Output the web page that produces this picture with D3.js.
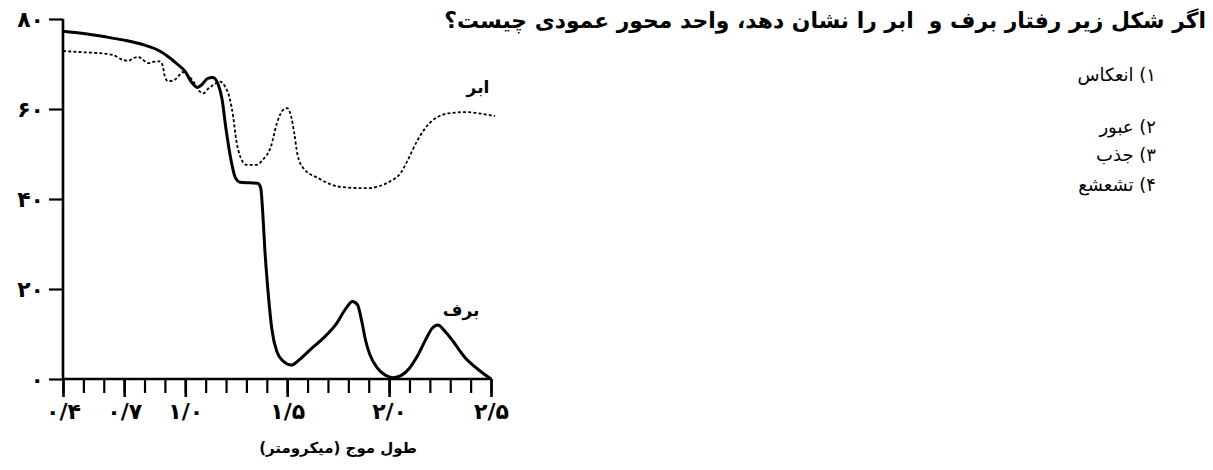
<!DOCTYPE html>
<html>
<head>
<meta charset="utf-8">
<script src="https://cdn.jsdelivr.net/npm/d3@7"></script>
<style>
  html, body { margin: 0; padding: 0; background: #fff; }
  #wrap { position: relative; width: 1213px; height: 470px; overflow: hidden; }
  svg { position: absolute; left: 0; top: 0; }
  .q { position: absolute; direction: rtl; font-family: "DejaVu Sans", sans-serif; color: #000; white-space: pre; }
</style>
</head>
<body>
<div id="wrap"></div>
<script>
// ---------- data ----------
const wavelengthSnow = [0.40,0.50,0.60,0.70,0.80,0.87,0.92,0.96,1.00,1.03,1.06,1.085,1.11,1.135,1.16,1.18,1.20,1.225,1.245,1.27,1.32,1.355,1.37,1.38,1.39,1.405,1.425,1.45,1.48,1.52,1.56,1.62,1.68,1.74,1.79,1.82,1.845,1.865,1.885,1.905,1.94,1.98,2.02,2.06,2.10,2.14,2.18,2.21,2.24,2.27,2.31,2.37,2.44,2.50];
const snowValues     = [77.3,76.8,76.1,75.3,74.2,73.0,71.5,70.0,68.3,66.0,64.8,65.6,66.8,67.0,65.6,62.3,55.5,48.5,44.8,43.7,43.6,43.5,42.5,37,29,20,11,6,4,3.1,4.3,6.8,9.2,12.2,15.8,17.2,16.5,13,8.5,5.5,2.6,0.9,0.3,0.8,2.4,5.2,8.8,11.2,12.0,10.8,8.6,4.9,2.0,0];

const wavelengthCloud = [0.40,0.50,0.58,0.645,0.695,0.72,0.745,0.77,0.79,0.82,0.845,0.875,0.888,0.90,0.915,0.94,0.965,0.985,1.01,1.04,1.07,1.09,1.11,1.14,1.17,1.195,1.22,1.235,1.25,1.27,1.30,1.35,1.38,1.42,1.45,1.48,1.50,1.52,1.535,1.55,1.58,1.65,1.76,1.89,2.00,2.06,2.09,2.14,2.20,2.30,2.38,2.46,2.52];
const cloudValues     = [72.9,72.6,72.4,72.0,70.9,70.7,71.3,71.6,71.0,70.2,70.5,70.6,69.8,67.2,66.2,66.3,67.2,68.2,67.6,66.1,63.9,63.5,64.4,65.4,66.1,65.0,62.0,58.3,53.1,49.4,47.6,47.6,48.7,51.6,56.9,59.8,60.2,58.2,54.5,50.0,46.8,44.7,42.7,42.4,43.8,46.0,48.5,53.1,56.9,59.1,59.3,58.9,58.4];

const xTicksAll    = [0.4,0.5,0.6,0.7,0.8,0.9,1.0,1.1,1.2,1.3,1.4,1.5,1.6,1.7,1.8,1.9,2.0,2.1,2.2,2.3,2.4,2.5];
const xTicksMajor  = [0.4,0.7,1.0,1.5,2.0,2.5];
const xTickLabels  = ["۰/۴","۰/۷","۱/۰","۱/۵","۲/۰","۲/۵"];
const yTicks       = [0,20,40,60,80];
const yTickLabels  = ["۰","۲۰","۴۰","۶۰","۸۰"];

const seriesLabels = ["برف","ابر"];
const xAxisTitle   = "طول موج (میکرومتر)";
const questionText = "اگر شکل زیر رفتار برف و  ابر را نشان دهد، واحد محور عمودی چیست؟";
const options      = ["۱) انعکاس","۲) عبور","۳) جذب","۴) تشعشع"];

// ---------- layout ----------
const W = 1213, H = 470;
const wrap = d3.select("#wrap");
const svg = wrap.append("svg").attr("width", W).attr("height", H);

const x = d3.scaleLinear().domain([0.4, 2.5]).range([63, 491]);
const y = d3.scaleLinear().domain([0, 80]).range([379, 19]);

const FONT = "'DejaVu Sans', sans-serif";

// x axis: minor ticks
const xMinor = svg.append("g").attr("transform", `translate(0,${y(0)})`)
  .call(d3.axisBottom(x).tickValues(xTicksAll).tickSize(14).tickFormat(""));
xMinor.select(".domain").remove();
xMinor.selectAll(".tick line").attr("stroke", "#000").attr("stroke-width", 2.2);

// x axis: major ticks + labels
const xMajor = svg.append("g").attr("transform", `translate(0,${y(0)})`)
  .call(d3.axisBottom(x).tickValues(xTicksMajor).tickSize(18).tickPadding(6)
        .tickFormat((d, i) => xTickLabels[i]));
xMajor.select(".domain").remove();
xMajor.selectAll(".tick line").attr("stroke", "#000").attr("stroke-width", 2.6);
xMajor.selectAll(".tick text").attr("fill", "#000")
  .style("font-family", FONT).style("font-size", "22px").style("font-weight", "bold")
  .style("letter-spacing", "1px").attr("direction", "ltr");

// x axis line
svg.append("line").attr("x1", x(0.4) - 1).attr("x2", x(2.5) + 1)
  .attr("y1", y(0)).attr("y2", y(0)).attr("stroke", "#000").attr("stroke-width", 2.6);

// y axis
const yAx = svg.append("g").attr("transform", `translate(${x(0.4)},0)`)
  .call(d3.axisLeft(y).tickValues(yTicks).tickSize(14).tickPadding(5)
        .tickFormat((d, i) => yTickLabels[i]));
yAx.select(".domain").remove();
yAx.selectAll(".tick line").attr("stroke", "#000").attr("stroke-width", 2.2);
yAx.selectAll(".tick text").attr("fill", "#000")
  .style("font-family", FONT).style("font-size", "22px").style("font-weight", "bold")
  .style("letter-spacing", "4px").attr("direction", "ltr");
svg.append("line").attr("x1", x(0.4)).attr("x2", x(0.4))
  .attr("y1", y(80)).attr("y2", y(0) + 1).attr("stroke", "#000").attr("stroke-width", 2.6);

// curves
const line = d3.line().x(d => x(d[0])).y(d => y(d[1])).curve(d3.curveMonotoneX);
svg.append("path")
  .datum(wavelengthCloud.map((w, i) => [w, cloudValues[i]]))
  .attr("d", line).attr("fill", "none").attr("stroke", "#000")
  .attr("stroke-width", 1.8).attr("stroke-dasharray", "3,2.2");
svg.append("path")
  .datum(wavelengthSnow.map((w, i) => [w, snowValues[i]]))
  .attr("d", line).attr("fill", "none").attr("stroke", "#000")
  .attr("stroke-width", 3).attr("stroke-linejoin", "round");

// series labels
svg.append("text").attr("x", 461).attr("y", 316).attr("text-anchor", "middle")
  .style("font-family", FONT).style("font-size", "17px").style("font-weight", "bold")
  .text(seriesLabels[0]);
svg.append("text").attr("x", 478).attr("y", 93).attr("text-anchor", "middle")
  .style("font-family", FONT).style("font-size", "17px").style("font-weight", "bold")
  .text(seriesLabels[1]);

// x axis title
svg.append("text").attr("x", 338).attr("y", 453).attr("text-anchor", "middle")
  .style("font-family", FONT).style("font-size", "15px").style("font-weight", "bold")
  .text(xAxisTitle);

// question and options (right side)
const q = wrap.append("div").attr("class", "q")
  .style("right", (W - 1206) + "px").style("top", "8px")
  .style("font-size", "18px").style("font-weight", "bold")
  .text(questionText);
// fit title width to reference (~762px)
const qw = q.node().getBoundingClientRect().width;
q.style("font-size", (18 * 762 / qw).toFixed(2) + "px");

const optTops = [64, 116, 144, 174];
options.forEach((t, i) => {
  wrap.append("div").attr("class", "q")
    .style("right", (W - 1156) + "px").style("top", optTops[i] + "px")
    .style("font-size", "18px")
    .text(t);
});
</script>
</body>
</html>
